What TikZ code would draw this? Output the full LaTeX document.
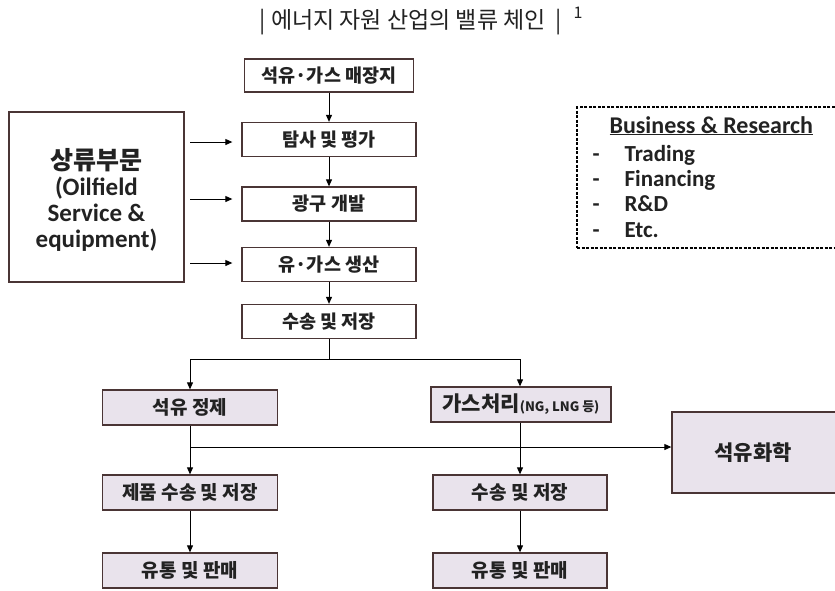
\documentclass[tikz,border=0pt]{standalone}
\usepackage{fontspec}
\setmainfont{Carlito}
\newfontfamily\kr{Noto Sans CJK KR}
\usetikzlibrary{arrows.meta}
\definecolor{bord}{HTML}{4A3535}
\definecolor{lav}{HTML}{E9E3EC}
\definecolor{txt}{HTML}{222222}
\begin{document}
\begin{tikzpicture}[x=1pt,y=-1pt,
  topbox/.style={draw=bord,line width=1.3pt,fill=white,minimum width=174pt,minimum height=34pt,inner sep=0pt,font=\kr\bfseries\fontsize{18.5}{20}\selectfont,text=txt},
  lowbox/.style={draw=bord,line width=1.3pt,fill=lav,minimum width=175pt,minimum height=35pt,inner sep=0pt,font=\kr\bfseries\fontsize{19}{20}\selectfont,text=txt},
  listtxt/.style={anchor=base west,font=\bfseries\fontsize{24}{26}\selectfont,text=txt},
  arr/.style={draw=black,line width=0.9pt,-{Triangle[length=7pt,width=6pt]}},
  ln/.style={draw=black,line width=0.9pt}]
\useasboundingbox (0,0) rectangle (835,590);
\fill[white] (0,0) rectangle (835,590);
% title
\node[font=\kr\fontsize{23}{26}\selectfont,text=txt,anchor=center] (title) at (411,22) {|\ 에너지 자원 산업의 밸류 체인 \ |};
\node[font=\kr\fontsize{16}{18}\selectfont,text=txt] (fn) at (578,13) {1};
% top column
\node[topbox,minimum width=169pt,minimum height=33pt] (b1) at (329,75.5) {석유·가스 매장지};
\node[topbox] (b2) at (329,139.5) {탐사 및 평가};
\node[topbox] (b3) at (329,204) {광구 개발};
\node[topbox] (b4) at (329,264.5) {유·가스 생산};
\node[topbox] (b5) at (329,321.5) {수송 및 저장};
\foreach \a/\b in {b1/b2,b2/b3,b3/b4,b4/b5}{\draw[arr] (\a.south) -- (\b.north);}
% left box
\node[draw=bord,line width=1.3pt,minimum width=175pt,minimum height=170pt,inner sep=0pt] (up) at (96.5,197) {};
\node[align=center,text=txt,inner sep=0pt,font=\bfseries\fontsize{25}{26}\selectfont] (uptxt) at (96.5,200)
 {{\kr\bfseries\fontsize{25}{26}\selectfont 상류부문}\\(Oilfield\\Service \&\\equipment)};
\coordinate (s1) at (190,142);
\coordinate (s2) at (190,199);
\coordinate (s3) at (190,263);
\draw[arr,shorten >=9pt] (s1) -- (s1 -| b2.west);
\draw[arr,shorten >=9pt] (s2) -- (s2 -| b3.west);
\draw[arr,shorten >=9pt] (s3) -- (s3 -| b4.west);
% business box
\node[draw=black,dashed,dash pattern=on 3pt off 1.5pt,line width=1.1pt,minimum width=263pt,minimum height=141pt,inner sep=0pt] (biz) at (708.5,177.5) {};
\node[listtxt] (bizt) at (606,133) {\underline{Business \& Research}};
\foreach \i/\t/\y in {1/Trading/161,2/Financing/186,3/R\&D/211,4/Etc./237}{
  \node[listtxt,font=\bfseries\fontsize{23}{26}\selectfont] (d\i) at (589,\y) {-};
  \node[listtxt,font=\bfseries\fontsize{23}{26}\selectfont] (it\i) at (621,\y) {\t};
}
% lower part
\node[lowbox] (r1) at (190,407.5) {석유 정제};
\node[lowbox] (r2) at (190,492.5) {제품 수송 및 저장};
\node[lowbox] (r3) at (190,570.5) {유통 및 판매};
\node[lowbox,minimum width=180pt] (g1) at (521,404.5) {{\fontsize{21}{22}\selectfont 가스처리}{\fontsize{13}{14}\selectfont (NG, LNG 등)}};
\node[lowbox,minimum width=174pt] (g2) at (520,492.5) {수송 및 저장};
\node[lowbox,minimum width=174pt] (g3) at (520,570.5) {유통 및 판매};
\node[lowbox,minimum width=170pt,minimum height=81pt,font=\kr\bfseries\fontsize{21}{22}\selectfont] (pc) at (757,452.5) {\hspace*{-8pt}석유화학};
\coordinate (j) at (329,359);
\draw[ln] (b5.south) -- (j);
\draw[arr] (j) -| (r1.north);
\draw[arr] (j) -| (g1.north -| g2.north);
\draw[arr] (r1.south) -- (r2.north);
\draw[arr] (r2.south) -- (r3.north);
\draw[arr] (g1.south -| g2.north) -- (g2.north);
\draw[arr] (g2.south) -- (g3.north);
\coordinate (k) at (190,447);
\draw[arr] (k) -- (k -| pc.west);
\end{tikzpicture}
\end{document}
